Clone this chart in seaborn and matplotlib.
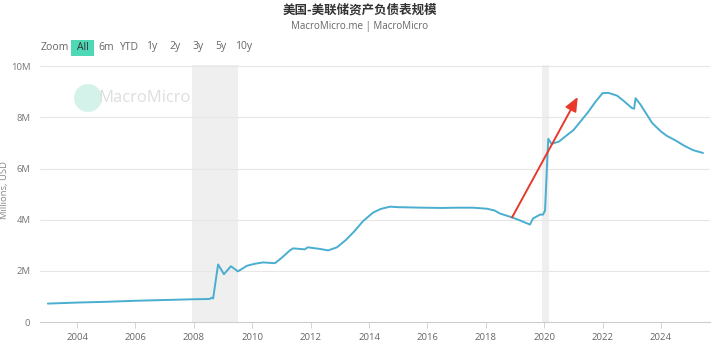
import matplotlib
matplotlib.use("Agg")
import matplotlib.pyplot as plt
import seaborn as sns
import pandas as pd
from matplotlib.patches import FancyBboxPatch, Ellipse

# ---- data ----
years = [2003.0, 2004.0, 2005.0, 2006.0, 2007.0, 2008.0, 2008.55, 2008.6, 2008.66,
         2008.83, 2009.03, 2009.27, 2009.51, 2009.82, 2010.1, 2010.37, 2010.78,
         2011.0, 2011.29, 2011.4, 2011.8, 2011.9, 2012.3, 2012.6, 2012.9,
         2013.2, 2013.5, 2013.8, 2014.14, 2014.4, 2014.72, 2015.0, 2015.85,
         2016.5, 2017.0, 2017.56, 2018.04, 2018.3, 2018.49, 2018.9, 2019.2,
         2019.51, 2019.62, 2019.86, 2019.96, 2020.03, 2020.1, 2020.14, 2020.25,
         2020.5, 2020.75, 2021.0, 2021.2, 2021.5, 2021.75, 2022.0, 2022.2,
         2022.5, 2022.75, 2023.0, 2023.08, 2023.13, 2023.3, 2023.7, 2024.0,
         2024.2, 2024.5, 2024.8, 2025.1, 2025.44]
values = [0.72, 0.76, 0.79, 0.83, 0.86, 0.89, 0.9, 0.95, 0.92,
          2.25, 1.87, 2.18, 1.98, 2.2, 2.28, 2.33, 2.3,
          2.5, 2.8, 2.88, 2.84, 2.92, 2.86, 2.8, 2.92,
          3.2, 3.55, 3.95, 4.28, 4.42, 4.51, 4.49, 4.47,
          4.46, 4.47, 4.47, 4.43, 4.36, 4.24, 4.09, 3.96,
          3.81, 4.05, 4.2, 4.2, 4.36, 6.2, 7.16, 6.97,
          7.05, 7.28, 7.5, 7.78, 8.2, 8.6, 8.95, 8.96,
          8.85, 8.62, 8.37, 8.34, 8.75, 8.5, 7.78, 7.45,
          7.28, 7.1, 6.89, 6.72, 6.61]
recessions = [(2007.92, 2009.5), (2019.93, 2020.18)]
arrow_start = (2018.9, 4.09)
arrow_end = (2021.15, 8.8)
y_ticks = [0, 2, 4, 6, 8, 10]
y_labels = ["0", "2M", "4M", "6M", "8M", "10M"]
x_ticks = [2004, 2006, 2008, 2010, 2012, 2014, 2016, 2018, 2020, 2022, 2024]
title = "美国-美联储资产负债表规模"
subtitle = "MacroMicro.me | MacroMicro"
buttons = ["6m", "YTD", "1y", "2y", "3y", "5y", "10y"]

df = pd.DataFrame({"year": years, "value": values})

sns.set_theme(style="white")
plt.rcParams["font.family"] = ["Open Sans", "Noto Sans CJK SC", "DejaVu Sans"]

W, H = 719, 349
fig = plt.figure(figsize=(W/100, H/100), dpi=100)
ax = fig.add_axes([40/W, 1-322/H, 670/W, (322-65)/H])

for a, b in recessions:
    ax.axvspan(a, b, color="#efefef", lw=0, zorder=0)

for t in y_ticks[1:]:
    ax.axhline(t, color="#e6e6e6", lw=0.8, zorder=0.5)

sns.lineplot(data=df, x="year", y="value", ax=ax, color="#4aaed0", lw=1.4, zorder=3)

ax.annotate("", xy=arrow_end, xytext=arrow_start,
            arrowprops=dict(arrowstyle="-|>,head_length=0.7,head_width=0.3",
                            color="#e8392b", lw=1.4, shrinkA=0, shrinkB=0),
            zorder=4)

ax.set_xlim(2002.73, 2025.68)
ax.set_ylim(0, 10.05)
ax.set_yticks(y_ticks)
ax.set_yticklabels(y_labels)
ax.set_xticks(x_ticks)
ax.set_xticklabels([str(x) for x in x_ticks])
ax.tick_params(axis="y", length=0, labelsize=6.8, labelcolor="#777777", pad=7)
ax.tick_params(axis="x", length=4, width=0.6, color="#cccccc", labelsize=6.8,
               labelcolor="#666666", pad=4, bottom=True)
for s in ["top", "right", "left"]:
    ax.spines[s].set_visible(False)
ax.spines["bottom"].set_color("#cccccc")
ax.spines["bottom"].set_linewidth(0.8)
ax.set_xlabel("")
ax.set_ylabel("")

fig.text(5/W, 1-190/H, "Millions, USD", rotation=90, ha="center", va="center",
         fontsize=6.8, color="#888888")

# title and subtitle
fig.text(360/W, 1-10/H, title, ha="center", va="center", fontsize=9,
         fontweight="bold", color="#333333", family=["Noto Sans CJK SC", "DejaVu Sans"])
fig.text(360/W, 1-26/H, subtitle, ha="center", va="center", fontsize=7,
         color="#666666")

# range selector
fig.text(41/W, 1-47/H, "Zoom", ha="left", va="center", fontsize=7.5, color="#666666")
fig.patches.append(FancyBboxPatch((71/W, 1-56/H), 23/W, 16/H,
                                  boxstyle="square,pad=0", transform=fig.transFigure,
                                  facecolor="#4fd8b5", edgecolor="none"))
fig.text(82.5/W, 1-47/H, "All", ha="center", va="center", fontsize=7.5,
         color="#333333")
bx = [106, 129, 152, 175, 198, 221, 244]
for x, lab in zip(bx, buttons):
    fig.text(x/W, 1-47/H, lab, ha="center", va="center", fontsize=7.5, color="#666666")

# watermark
fig.patches.append(Ellipse((88/W, 1-98/H), 28/W, 28/H, transform=fig.transFigure,
                           facecolor="#d5f2ea", edgecolor="none", zorder=1))
fig.text(145/W, 1-98/H, "MacroMicro", ha="center", va="center", fontsize=12,
         color="#dedede", zorder=1)

fig.savefig("out.png", dpi=100)
